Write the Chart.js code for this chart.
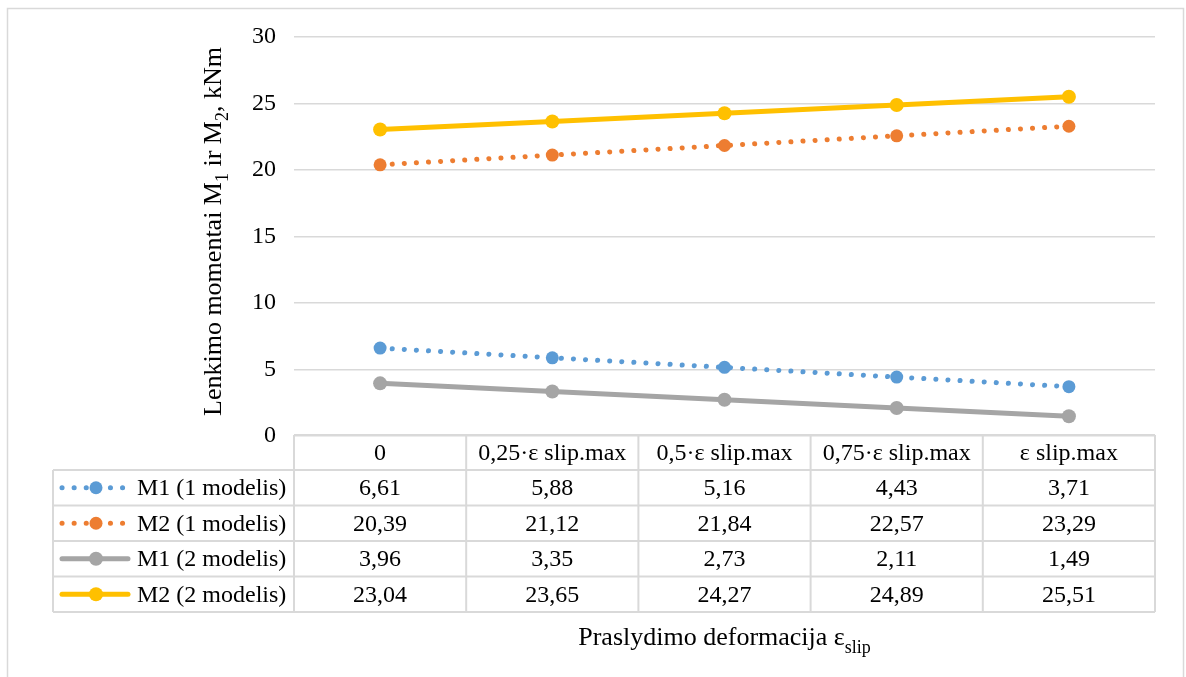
<!DOCTYPE html>
<html lang="lt">
<head>
<meta charset="utf-8">
<title>Lenkimo momentai</title>
<script src="https://cdn.jsdelivr.net/npm/chart.js@4"></script>
<style>
  html, body { margin: 0; padding: 0; background: #fff; }
  canvas { display: block; }
</style>
</head>
<body>
<canvas id="grafikas" width="1186" height="677"></canvas>
<script>
// Kategorijos (x ašis) ir serijų reikšmės
const kategorijos = ['0', '0,25·ε slip.max', '0,5·ε slip.max', '0,75·ε slip.max', 'ε slip.max'];
const serijuPavadinimai = ['M1 (1 modelis)', 'M2 (1 modelis)', 'M1 (2 modelis)', 'M2 (2 modelis)'];
const m1Modelis1 = [6.61, 5.88, 5.16, 4.43, 3.71];
const m2Modelis1 = [20.39, 21.12, 21.84, 22.57, 23.29];
const m1Modelis2 = [3.96, 3.35, 2.73, 2.11, 1.49];
const m2Modelis2 = [23.04, 23.65, 24.27, 24.89, 25.51];
const yMin = 0;
const yMax = 30;
const yZingsnis = 5;

const SRIFTAS = "'Liberation Serif', 'Times New Roman', serif";
const TINKLELIS = '#d9d9d9';

// Skaičius su kableliu vietoj taško
function formatuoti(v) {
    return v.toFixed(2).replace('.', ',');
}

// Taškinė linija (1 modelis) arba ištisinė (2 modelis)
function serija(pavadinimas, duomenys, spalva, taskine) {
    return {
        label: pavadinimas,
        data: duomenys,
        borderColor: spalva,
        backgroundColor: spalva,
        borderWidth: 5,
        borderDash: taskine ? [0.1, 12] : [],
        borderCapStyle: 'round',
        pointRadius: taskine ? 6.5 : 7,
        pointBorderWidth: 0,
        pointBackgroundColor: spalva,
        pointHoverRadius: 7,
        tension: 0,
        fill: false
    };
}

// Rėmelis aplink visą grafiką
const remelis = {
    id: 'remelis',
    beforeDraw(chart) {
        const ctx = chart.ctx;
        ctx.save();
        ctx.strokeStyle = TINKLELIS;
        ctx.lineWidth = 1.5;
        ctx.strokeRect(7.5, 8.5, 1176, 700);
        ctx.restore();
    }
};

// Tekstas su apatiniu indeksu: dalys [tekstas, arIndeksas]
function tekstasSuIndeksais(ctx, dalys, x, y, dydis, indeksoDydis, poslinkis) {
    let plotis = 0;
    dalys.forEach(([t, idx]) => {
        ctx.font = (idx ? indeksoDydis : dydis) + 'px ' + SRIFTAS;
        plotis += ctx.measureText(t).width;
    });
    let cx = x - plotis / 2;
    ctx.textAlign = 'left';
    ctx.textBaseline = 'alphabetic';
    dalys.forEach(([t, idx]) => {
        ctx.font = (idx ? indeksoDydis : dydis) + 'px ' + SRIFTAS;
        ctx.fillText(t, cx, idx ? y + poslinkis : y);
        cx += ctx.measureText(t).width;
    });
}

// Duomenų lentelė po grafiku ir ašių pavadinimai
const lentele = {
    id: 'lentele',
    afterDraw(chart) {
        const ctx = chart.ctx;
        const area = chart.chartArea;
        const xs = chart.scales.x;
        const stulpelioPlotis = area.width / kategorijos.length;
        const legendosKaire = 53;
        const virsus = area.bottom - 1;
        const antrastesAukstis = 35;
        const eilutesAukstis = 35.5;
        const serijos = chart.data.datasets;

        ctx.save();
        ctx.strokeStyle = TINKLELIS;
        ctx.lineWidth = 2;

        // horizontalios linijos
        ctx.beginPath();
        ctx.moveTo(area.left, virsus);
        ctx.lineTo(area.right, virsus);
        for (let i = 0; i <= serijos.length; i++) {
            const y = virsus + antrastesAukstis + i * eilutesAukstis;
            ctx.moveTo(legendosKaire, y);
            ctx.lineTo(area.right, y);
        }
        // vertikalios linijos
        const apacia = virsus + antrastesAukstis + serijos.length * eilutesAukstis;
        ctx.moveTo(legendosKaire, virsus + antrastesAukstis);
        ctx.lineTo(legendosKaire, apacia);
        for (let i = 0; i <= kategorijos.length; i++) {
            const x = area.left + i * stulpelioPlotis;
            ctx.moveTo(x, virsus);
            ctx.lineTo(x, apacia);
        }
        ctx.stroke();

        // antraštės (kategorijos)
        ctx.fillStyle = '#000';
        ctx.font = '24px ' + SRIFTAS;
        ctx.textAlign = 'center';
        ctx.textBaseline = 'middle';
        kategorijos.forEach((k, i) => {
            ctx.fillText(k, xs.getPixelForValue(i), virsus + antrastesAukstis / 2 + 1);
        });

        // eilutės su reikšmėmis ir legendos ženklais
        serijos.forEach((ds, r) => {
            const yc = virsus + antrastesAukstis + r * eilutesAukstis + eilutesAukstis / 2;
            ds.data.forEach((v, i) => {
                ctx.fillStyle = '#000';
                ctx.textAlign = 'center';
                ctx.fillText(formatuoti(v), xs.getPixelForValue(i), yc + 1);
            });

            ctx.save();
            ctx.strokeStyle = ds.borderColor;
            ctx.lineWidth = ds.borderWidth;
            ctx.lineCap = 'round';
            ctx.setLineDash(ds.borderDash);
            ctx.beginPath();
            ctx.moveTo(62, yc);
            ctx.lineTo(128, yc);
            ctx.stroke();
            ctx.setLineDash([]);
            ctx.fillStyle = ds.pointBackgroundColor;
            ctx.beginPath();
            ctx.arc(96, yc, ds.pointRadius, 0, Math.PI * 2);
            ctx.fill();
            ctx.restore();

            ctx.fillStyle = '#000';
            ctx.textAlign = 'left';
            ctx.fillText(ds.label, 137, yc + 1);
        });

        // x ašies pavadinimas
        ctx.fillStyle = '#000';
        tekstasSuIndeksais(ctx, [['Praslydimo deformacija ε', false], ['slip', true]],
            (area.left + area.right) / 2, 645, 26, 18, 8);

        // y ašies pavadinimas (pasuktas)
        ctx.save();
        ctx.translate(221, (area.top + area.bottom) / 2 - 5);
        ctx.rotate(-Math.PI / 2);
        tekstasSuIndeksais(ctx, [
            ['Lenkimo momentai M', false], ['1', true], [' ir M', false], ['2', true], [', kNm', false]
        ], 0, 0, 26, 18, 7);
        ctx.restore();

        ctx.restore();
    }
};

new Chart(document.getElementById('grafikas'), {
    type: 'line',
    data: {
        labels: kategorijos,
        datasets: [
            serija(serijuPavadinimai[0], m1Modelis1, '#5b9bd5', true),
            serija(serijuPavadinimai[1], m2Modelis1, '#ed7d31', true),
            serija(serijuPavadinimai[2], m1Modelis2, '#a5a5a5', false),
            serija(serijuPavadinimai[3], m2Modelis2, '#ffc000', false)
        ]
    },
    options: {
        responsive: false,
        animation: false,
        layout: {
            padding: { left: 0, right: 31, top: 37, bottom: 241 }
        },
        plugins: {
            legend: { display: false },
            tooltip: { enabled: false }
        },
        scales: {
            x: {
                type: 'category',
                offset: true,
                display: false
            },
            y: {
                min: yMin,
                max: yMax,
                border: { display: false },
                grid: { color: TINKLELIS, lineWidth: 1.5, drawTicks: false },
                ticks: {
                    stepSize: yZingsnis,
                    padding: 18,
                    color: '#000',
                    font: { family: SRIFTAS, size: 24 }
                },
                afterFit(scale) {
                    scale.width = 294;
                }
            }
        }
    },
    plugins: [remelis, lentele]
});
</script>
</body>
</html>
